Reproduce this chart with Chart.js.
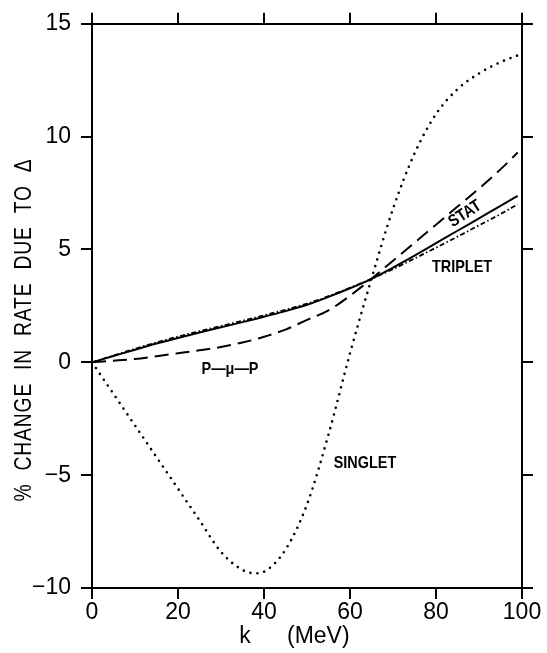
<!DOCTYPE html>
<html>
<head>
<meta charset="utf-8">
<script src="https://cdn.jsdelivr.net/npm/chart.js@4.4.0/dist/chart.umd.min.js"></script>
<style>
    html, body { margin: 0; padding: 0; background: #fff; }
    #wrap { width: 547px; height: 653px; }
</style>
</head>
<body>
<div id="wrap"><canvas id="chart" width="547" height="653"></canvas></div>
<script>
// k values (MeV)
const kValues = [0, 5, 10, 15, 20, 25, 30, 35, 38, 40, 45, 50, 55, 60, 65, 70, 75, 80, 85, 90, 95, 99];

// % change in rate
const singlet = [0, -1.4, -2.8, -4.2, -5.6, -7.0, -8.4, -9.2, -9.35, -9.28, -8.3, -6.3, -3.2, 0.4, 3.7, 6.8, 9.25, 11.0, 12.1, 12.8, 13.3, 13.6];
const stat    = [0, 0.28, 0.56, 0.83, 1.08, 1.32, 1.55, 1.78, 1.92, 2.02, 2.27, 2.55, 2.9, 3.28, 3.7, 4.2, 4.73, 5.28, 5.83, 6.38, 6.93, 7.38];
const triplet = [0, 0.3, 0.6, 0.88, 1.14, 1.38, 1.61, 1.84, 1.98, 2.08, 2.33, 2.6, 2.93, 3.3, 3.7, 4.13, 4.6, 5.08, 5.57, 6.07, 6.57, 7.0];
const pmp     = [0, 0.07, 0.15, 0.27, 0.4, 0.53, 0.68, 0.88, 1.02, 1.13, 1.45, 1.88, 2.3, 2.95, 3.7, 4.5, 5.3, 6.1, 6.9, 7.7, 8.55, 9.3];

// axis ticks
const xTicks = [0, 20, 40, 60, 80, 100];
const yTicks = [-10, -5, 0, 5, 10, 15];

const FONT = '"Liberation Sans", Arial, Helvetica, sans-serif';

function points(values) {
    return kValues.map((k, i) => ({ x: k, y: values[i] }));
}

// Text labels drawn on the canvas
const labelPlugin = {
    id: 'labels',
    afterDraw(chart) {
        const ctx = chart.ctx;
        ctx.save();
        ctx.fillStyle = '#000';
        ctx.textBaseline = 'middle';

        // y axis title
        ctx.save();
        ctx.translate(25, 330);
        ctx.rotate(-Math.PI / 2);
        ctx.scale(0.84, 1);
        ctx.font = '23px ' + FONT;
        ctx.letterSpacing = '1px';
        ctx.wordSpacing = '8px';
        ctx.textAlign = 'center';
        ctx.fillText('% CHANGE IN RATE DUE TO \u0394', 0, 0);
        ctx.restore();

        // x axis title
        ctx.font = '23px ' + FONT;
        ctx.textAlign = 'center';
        ctx.fillText('k', 245, 637);
        ctx.textAlign = 'left';
        ctx.fillText('(MeV)', 287, 637);

        // curve labels
        function tag(text, x, y, angle) {
            ctx.save();
            ctx.translate(x, y);
            ctx.rotate(angle || 0);
            ctx.scale(0.85, 1);
            ctx.font = 'bold 17px ' + FONT;
            ctx.textAlign = 'center';
            ctx.fillText(text, 0, 0);
            ctx.restore();
        }
        tag('SINGLET', 365, 463);
        tag('P\u2014\u03bc\u2014P', 230, 369);
        tag('TRIPLET', 462, 267);
        tag('STAT', 465, 214, -33 * Math.PI / 180);

        ctx.restore();
    }
};

function axisCommon(position, showLabels) {
    return {
        type: 'linear',
        position: position,
        grid: {
            drawOnChartArea: false,
            drawTicks: true,
            tickLength: 11,
            color: '#000',
            lineWidth: 2
        },
        border: { display: true, color: '#000', width: 2 },
        ticks: {
            display: showLabels,
            color: '#000',
            font: { family: FONT, size: 23 },
            callback: v => String(v).replace('-', '\u2212')
        }
    };
}

const xAxis = Object.assign(axisCommon('bottom', true), { min: 0, max: 100 });
xAxis.ticks.padding = 0;
xAxis.afterBuildTicks = s => { s.ticks = xTicks.map(v => ({ value: v })); };
xAxis.afterFit = s => { s.height = 65; };

const xTop = Object.assign(axisCommon('top', false), { min: 0, max: 100 });
xTop.afterBuildTicks = s => { s.ticks = xTicks.map(v => ({ value: v })); };
xTop.afterFit = s => { s.height = 17; };

const yAxis = Object.assign(axisCommon('left', true), { min: -10, max: 15 });
yAxis.ticks.padding = 10;
yAxis.afterBuildTicks = s => { s.ticks = yTicks.map(v => ({ value: v })); };
yAxis.afterFit = s => { s.width = 92; };

const yRight = Object.assign(axisCommon('right', false), { min: -10, max: 15 });
yRight.afterBuildTicks = s => { s.ticks = yTicks.map(v => ({ value: v })); };
yRight.afterFit = s => { s.width = 25; };

const lineBase = {
    borderColor: '#000',
    pointRadius: 0,
    fill: false,
    cubicInterpolationMode: 'monotone'
};

new Chart(document.getElementById('chart').getContext('2d'), {
    type: 'line',
    data: {
        datasets: [
            Object.assign({ label: 'SINGLET', data: points(singlet), borderWidth: 2.6, borderDash: [0, 7], borderCapStyle: 'round' }, lineBase),
            Object.assign({ label: 'STAT', data: points(stat), borderWidth: 2 }, lineBase),
            Object.assign({ label: 'TRIPLET', data: points(triplet), borderWidth: 1.8, borderDash: [5, 2.5, 1.5, 2.5] }, lineBase),
            Object.assign({ label: 'P-\u03bc-P', data: points(pmp), borderWidth: 2, borderDash: [14, 7] }, lineBase)
        ]
    },
    options: {
        responsive: false,
        animation: false,
        layout: { padding: 0 },
        plugins: {
            legend: { display: false },
            tooltip: { enabled: false }
        },
        scales: {
            x: xAxis,
            x2: xTop,
            y: yAxis,
            y2: yRight
        }
    },
    plugins: [labelPlugin]
});
</script>
</body>
</html>
